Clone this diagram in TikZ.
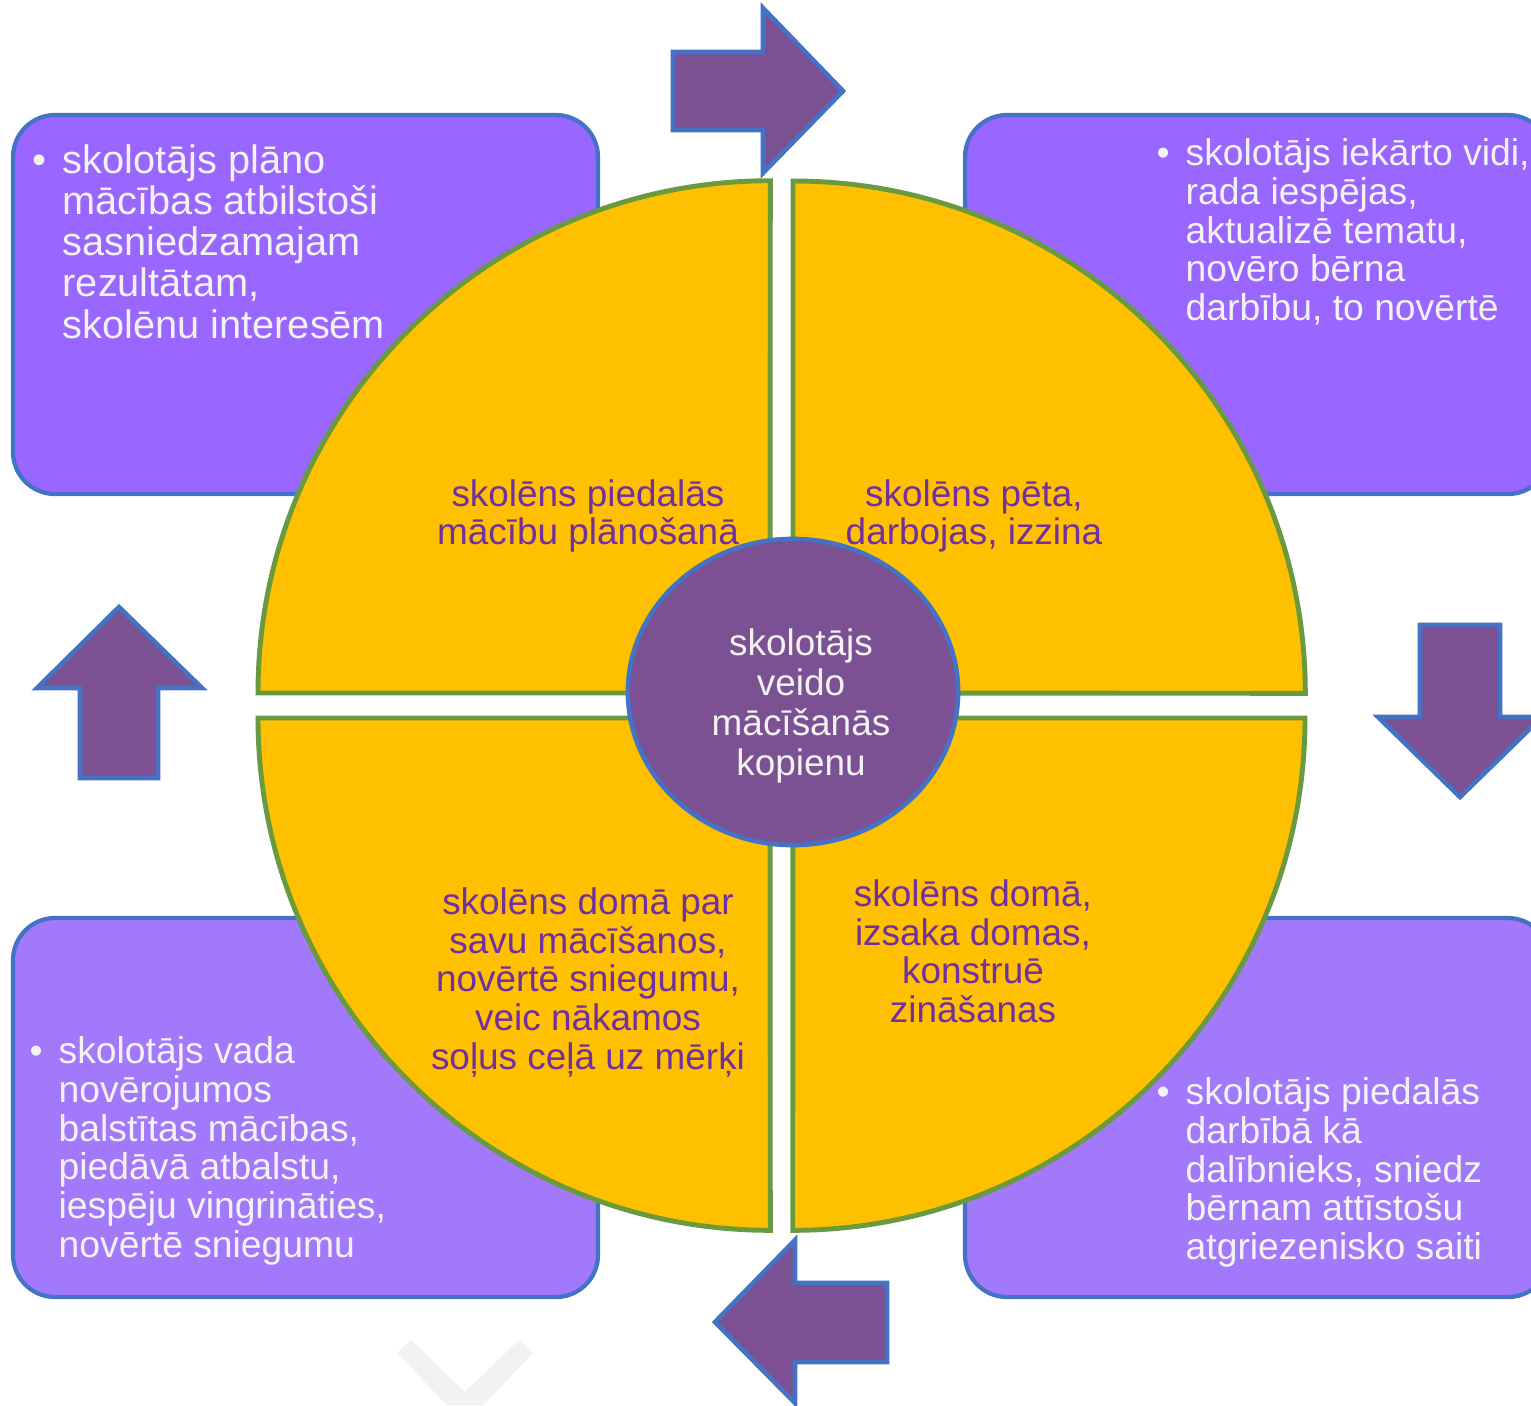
\documentclass[tikz,border=0pt]{standalone}
\usepackage{fontspec}
\setmainfont{Liberation Sans}
\usepackage{tikz}

\definecolor{boxtop}{HTML}{9966FF}
\definecolor{boxbot}{HTML}{A379FC}
\definecolor{rimblue}{HTML}{4472C4}
\definecolor{quartfill}{HTML}{FFC000}
\definecolor{quartrim}{HTML}{6A9A3F}
\definecolor{hubfill}{HTML}{7B5193}
\definecolor{plumtext}{HTML}{7030A0}
\definecolor{softwhite}{HTML}{F2F2F2}
\definecolor{ghost}{HTML}{F2F2F2}

\newcommand{\bul}{\llap{\textbullet\hspace{1.6mm}}}

\begin{document}
\begin{tikzpicture}[x=0.01cm, y=-0.01cm,
		card/.style={draw=rimblue, line width=1.2pt, rounded corners=0.42cm},
		quarter/.style={fill=quartfill, draw=quartrim, line width=1.4pt},
		blockarrow/.style={fill=hubfill, draw=rimblue, line width=1.3pt},
		cardtext/.style={text=softwhite, align=left, anchor=north west, inner sep=0pt, font=\fontsize{10.6}{11}\selectfont},
		quarttext/.style={text=plumtext, align=center, anchor=north, inner sep=0pt, font=\fontsize{10.5}{10.8}\selectfont}]
			\useasboundingbox (0,0) rectangle (1531,1405);
			\clip (0,0) rectangle (1531,1405);

			\draw[card, fill=boxtop] (13,115) rectangle (598,494);
			\draw[card, fill=boxtop] (965,115) rectangle (1550,494);
			\draw[card, fill=boxbot] (13,918) rectangle (598,1297);
			\draw[card, fill=boxbot] (965,918) rectangle (1550,1297);

			\draw[quarter] (770,693) -- (258,693) arc[start angle=180, end angle=90, radius=5.12cm] -- cycle;
			\draw[quarter] (793,693) -- (793,181) arc[start angle=90, end angle=0, radius=5.12cm] -- cycle;
			\draw[quarter] (770,718) -- (258,718) arc[start angle=180, end angle=270, radius=5.12cm] -- cycle;
			\draw[quarter] (793,718) -- (1305,718) arc[start angle=0, end angle=-90, radius=5.12cm] -- cycle;

			\draw[blockarrow] (793,692) ellipse [x radius=1.65cm, y radius=1.53cm];

			\draw[blockarrow] (673,52) -- (763,52) -- (763,8) -- (843,91) -- (763,173) -- (763,130) -- (673,130) -- cycle;
			\draw[blockarrow] (1420,625) -- (1500,625) -- (1500,717) -- (1542,717) -- (1460,797) -- (1378,717) -- (1420,717) -- cycle;
			\draw[blockarrow] (715,1322) -- (795,1240) -- (795,1283) -- (887,1283) -- (887,1362) -- (795,1362) -- (795,1403) -- cycle;
			\draw[blockarrow] (119,607) -- (202,688) -- (158,688) -- (158,778) -- (80,778) -- (80,688) -- (37,688) -- cycle;

			\fill[ghost] (397,1353) -- (411,1340) -- (465,1392) -- (519,1340) -- (533,1353) -- (483,1405) -- (447,1405) -- cycle;

			\node[cardtext, font=\fontsize{11.3}{11.7}\selectfont] (t-plan) at (62,144) {\bul skolotājs plāno\\mācības atbilstoši\\sasniedzamajam\\rezultātam,\\skolēnu interesēm};
			\node[cardtext] (t-setup) at (1185,138) {\bul skolotājs iekārto vidi,\\rada iespējas,\\aktualizē tematu,\\novēro bērna\\darbību, to novērtē};
			\node[cardtext] (t-guide) at (58,1036) {\bul skolotājs vada\\novērojumos\\balstītas mācības,\\piedāvā atbalstu,\\iespēju vingrināties,\\novērtē sniegumu};
			\node[cardtext] (t-join) at (1185,1077) {\bul skolotājs piedalās\\darbībā kā\\dalībnieks, sniedz\\bērnam attīstošu\\atgriezenisko saiti};

			\node[quarttext] (q-plan) at (588,479) {skolēns piedalās\\mācību plānošanā};
			\node[quarttext] (q-explore) at (974,479) {skolēns pēta,\\darbojas, izzina};
			\node[quarttext, font=\fontsize{10.5}{11}\selectfont] (q-reflect) at (588,887) {skolēns domā par\\savu mācīšanos,\\novērtē sniegumu,\\veic nākamos\\soļus ceļā uz mērķi};
			\node[quarttext, font=\fontsize{10.5}{11}\selectfont] (q-build) at (973,879) {skolēns domā,\\izsaka domas,\\konstruē\\zināšanas};

			\node[quarttext, text=softwhite, font=\fontsize{10.5}{11.4}\selectfont] (hub) at (801,628) {skolotājs\\veido\\mācīšanās\\kopienu};
		\end{tikzpicture}
\end{document}
